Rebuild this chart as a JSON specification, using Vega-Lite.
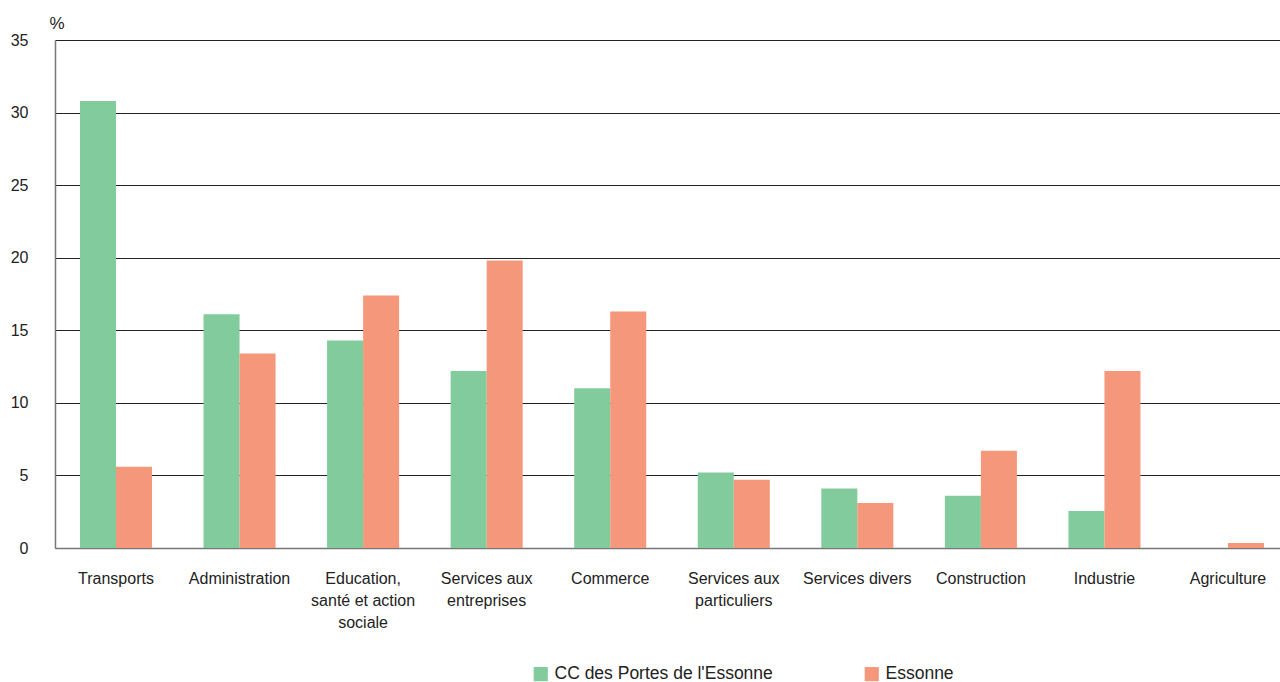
{
  "$schema": "https://vega.github.io/schema/vega-lite/v6.json",
  "autosize": {"type": "none"},
  "width": 1225,
  "height": 508,
  "padding": {"left": 55, "top": 40, "right": 0, "bottom": 134},
  "background": "white",
  "config": {
    "font": "Liberation Sans",
    "view": {"stroke": null},
    "axis": {"labelFont": "Liberation Sans", "labelColor": "#222", "titleFont": "Liberation Sans"}
  },
  "data": {
    "values": [
      {"secteur": "Transports", "zone": "CC des Portes de l'Essonne", "part": 30.8},
      {"secteur": "Transports", "zone": "Essonne", "part": 5.6},
      {"secteur": "Administration", "zone": "CC des Portes de l'Essonne", "part": 16.1},
      {"secteur": "Administration", "zone": "Essonne", "part": 13.4},
      {"secteur": "Education, santé et action sociale", "zone": "CC des Portes de l'Essonne", "part": 14.3},
      {"secteur": "Education, santé et action sociale", "zone": "Essonne", "part": 17.4},
      {"secteur": "Services aux entreprises", "zone": "CC des Portes de l'Essonne", "part": 12.2},
      {"secteur": "Services aux entreprises", "zone": "Essonne", "part": 19.8},
      {"secteur": "Commerce", "zone": "CC des Portes de l'Essonne", "part": 11.0},
      {"secteur": "Commerce", "zone": "Essonne", "part": 16.3},
      {"secteur": "Services aux particuliers", "zone": "CC des Portes de l'Essonne", "part": 5.2},
      {"secteur": "Services aux particuliers", "zone": "Essonne", "part": 4.7},
      {"secteur": "Services divers", "zone": "CC des Portes de l'Essonne", "part": 4.1},
      {"secteur": "Services divers", "zone": "Essonne", "part": 3.1},
      {"secteur": "Construction", "zone": "CC des Portes de l'Essonne", "part": 3.6},
      {"secteur": "Construction", "zone": "Essonne", "part": 6.7},
      {"secteur": "Industrie", "zone": "CC des Portes de l'Essonne", "part": 2.55},
      {"secteur": "Industrie", "zone": "Essonne", "part": 12.2},
      {"secteur": "Agriculture", "zone": "CC des Portes de l'Essonne", "part": 0},
      {"secteur": "Agriculture", "zone": "Essonne", "part": 0.35}
    ]
  },
  "mark": {"type": "bar"},
  "encoding": {
    "x": {
      "field": "secteur",
      "type": "nominal",
      "sort": null,
      "scale": {"paddingInner": 0.417, "paddingOuter": 0.1657, "align": 0.61},
      "axis": {
        "title": null,
        "labelAngle": 0,
        "labelFontSize": 16,
        "labelPadding": 22,
        "labelBaseline": "top",
        "labelLineHeight": 22,
        "ticks": false,
        "domainColor": "#777",
        "domainWidth": 1.5,
        "labelExpr": "datum.value == 'Education, santé et action sociale' ? ['Education,', 'santé et action', 'sociale'] : datum.value == 'Services aux entreprises' ? ['Services aux', 'entreprises'] : datum.value == 'Services aux particuliers' ? ['Services aux', 'particuliers'] : datum.value"
      }
    },
    "xOffset": {"field": "zone", "type": "nominal", "scale": {"paddingInner": 0, "paddingOuter": 0}},
    "y": {
      "field": "part",
      "type": "quantitative",
      "scale": {"domain": [0, 35], "nice": false},
      "axis": {
        "title": "%",
        "titleAngle": 0,
        "titleFontSize": 17,
        "titleFontWeight": "normal",
        "titleColor": "#222",
        "titleX": -6,
        "titleY": -8,
        "titleAlign": "left",
        "titleBaseline": "bottom",
        "values": [0, 5, 10, 15, 20, 25, 30, 35],
        "labelFontSize": 16,
        "labelPadding": 27,
        "ticks": false,
        "grid": true,
        "gridColor": "#222",
        "gridWidth": 1,
        "domainColor": "#777",
        "domainWidth": 1.5
      }
    },
    "color": {
      "field": "zone",
      "type": "nominal",
      "scale": {"domain": ["CC des Portes de l'Essonne", "Essonne"], "range": ["#82CB9C", "#F4977A"]},
      "legend": {
        "title": null,
        "orient": "none",
        "direction": "horizontal",
        "legendX": 477,
        "legendY": 625,
        "symbolType": "square",
        "symbolSize": 200,
        "symbolStrokeWidth": 0,
        "labelFontSize": 17.5,
        "labelColor": "#222",
        "labelOffset": 5,
        "columnPadding": 90,
        "labelLimit": 400
      }
    }
  }
}
